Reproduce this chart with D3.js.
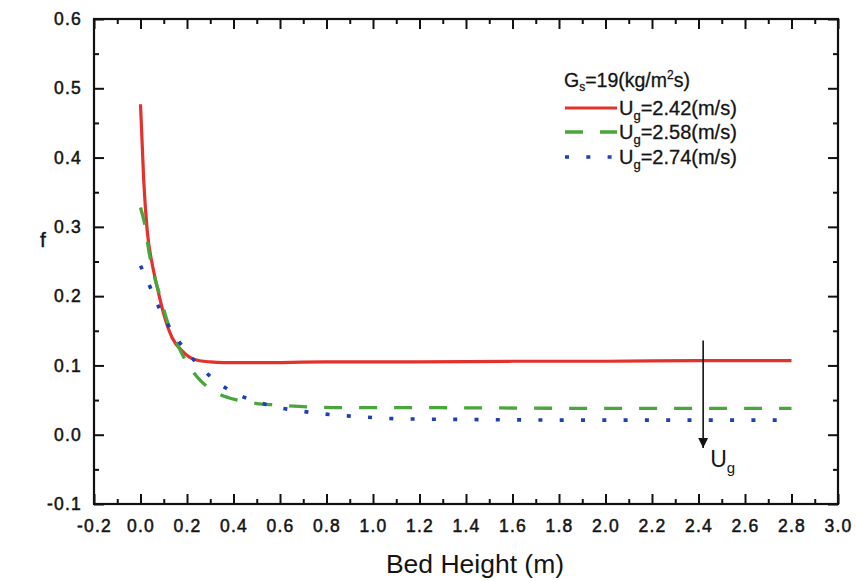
<!DOCTYPE html>
<html>
<head>
<meta charset="utf-8">
<script src="https://cdn.jsdelivr.net/npm/d3@7"></script>
<style>
  body { margin: 0; background: #fff; }
  text { font-family: "Liberation Sans", Arial, Helvetica, sans-serif; fill: #141414; }
</style>
</head>
<body>
<svg id="chart" width="856" height="581"></svg>
<script>
// ---- data ----
const redX   = [0, 0.014, 0.029, 0.05, 0.072, 0.10, 0.136, 0.179, 0.229, 0.30, 0.358, 0.5, 0.8, 1.2, 1.6, 2.0, 2.4, 2.8];
const redY   = [0.477, 0.366, 0.294, 0.247, 0.213, 0.174, 0.140, 0.121, 0.109, 0.105, 0.104, 0.104, 0.105, 0.105, 0.106, 0.106, 0.107, 0.107];
const greenX = [0, 0.021, 0.036, 0.057, 0.086, 0.115, 0.158, 0.186, 0.258, 0.315, 0.415, 0.5, 0.58, 0.73, 0.88, 1.2, 2.0, 2.8];
const greenY = [0.328, 0.299, 0.265, 0.232, 0.198, 0.164, 0.131, 0.112, 0.078, 0.063, 0.050, 0.045, 0.043, 0.040, 0.039, 0.039, 0.038, 0.038];
const blueX  = [0, 0.039, 0.06, 0.107, 0.16, 0.232, 0.315, 0.394, 0.489, 0.582, 0.671, 0.761, 0.852, 0.941, 1.034, 1.12, 1.4, 2.0, 2.8];
const blueY  = [0.244, 0.215, 0.198, 0.165, 0.137, 0.107, 0.080, 0.062, 0.049, 0.040, 0.035, 0.031, 0.028, 0.026, 0.024, 0.023, 0.022, 0.021, 0.021];
const seriesNames = ["2.42", "2.58", "2.74"];
const xTicks = [-0.2, 0.0, 0.2, 0.4, 0.6, 0.8, 1.0, 1.2, 1.4, 1.6, 1.8, 2.0, 2.2, 2.4, 2.6, 2.8, 3.0];
const yTicks = [-0.1, 0.0, 0.1, 0.2, 0.3, 0.4, 0.5, 0.6];
const arrowX = 2.42;
const arrowY = [0.136, -0.019];

// ---- layout ----
const L = 94, R = 838, T = 19, B = 504;
const svg = d3.select("#chart");
const x = d3.scaleLinear().domain([-0.2, 3.0]).range([L, R]);
const y = d3.scaleLinear().domain([-0.1, 0.6]).range([B, T]);

const xMinor = d3.range(-0.1, 3.0, 0.2).map(v => +v.toFixed(2));
const yMinor = d3.range(-0.05, 0.6, 0.1).map(v => +v.toFixed(3));
const fmt = d => d.toFixed(1);

function styleAxis(g) {
  g.select(".domain").remove();
  g.selectAll("line").attr("stroke", "#111").attr("stroke-width", 2);
}
function styleText(sel) {
  sel.attr("font-size", 17.5).attr("font-family", "Liberation Sans, Arial, sans-serif")
    .attr("fill", "#141414").attr("stroke", "#141414").attr("stroke-width", 0.5)
    .attr("letter-spacing", 1.2);
}

// bottom
svg.append("g").attr("transform", `translate(0,${B})`)
  .call(d3.axisBottom(x).tickValues(xTicks).tickSize(-10).tickPadding(16).tickFormat(fmt))
  .call(styleAxis)
  .selectAll("text").call(styleText);
svg.append("g").attr("transform", `translate(0,${B})`)
  .call(d3.axisBottom(x).tickValues(xMinor).tickSize(-5).tickFormat(""))
  .call(styleAxis);
// top
svg.append("g").attr("transform", `translate(0,${T})`)
  .call(d3.axisTop(x).tickValues(xTicks).tickSize(-10).tickFormat(""))
  .call(styleAxis);
svg.append("g").attr("transform", `translate(0,${T})`)
  .call(d3.axisTop(x).tickValues(xMinor).tickSize(-5).tickFormat(""))
  .call(styleAxis);
// left
svg.append("g").attr("transform", `translate(${L},0)`)
  .call(d3.axisLeft(y).tickValues(yTicks).tickSize(-10).tickPadding(12).tickFormat(fmt))
  .call(styleAxis)
  .selectAll("text").call(styleText);
svg.append("g").attr("transform", `translate(${L},0)`)
  .call(d3.axisLeft(y).tickValues(yMinor).tickSize(-5).tickFormat(""))
  .call(styleAxis);
// right
svg.append("g").attr("transform", `translate(${R},0)`)
  .call(d3.axisRight(y).tickValues(yTicks).tickSize(-10).tickFormat(""))
  .call(styleAxis);
svg.append("g").attr("transform", `translate(${R},0)`)
  .call(d3.axisRight(y).tickValues(yMinor).tickSize(-5).tickFormat(""))
  .call(styleAxis);

// frame
svg.append("rect").attr("x", L).attr("y", T).attr("width", R - L).attr("height", B - T)
  .attr("fill", "none").attr("stroke", "#111").attr("stroke-width", 2.2);

// lines
const line = d3.line().x(d => x(d[0])).y(d => y(d[1])).curve(d3.curveMonotoneX);
const series = [
  { xs: redX, ys: redY, color: "#e3312b", dash: null, width: 3.2 },
  { xs: greenX, ys: greenY, color: "#4aa63c", dash: "18,17", width: 3.3 },
  { xs: blueX, ys: blueY, color: "#1f3fb8", dash: "4,17.3", width: 3.6 }
];
series.forEach(s => {
  svg.append("path").datum(d3.zip(s.xs, s.ys))
    .attr("d", line).attr("fill", "none")
    .attr("stroke", s.color).attr("stroke-width", s.width)
    .attr("stroke-dasharray", s.dash);
});

// legend
const lg = svg.append("g");
const gt = lg.append("text").attr("x", 564).attr("y", 87).attr("font-size", 19.5)
  .attr("stroke", "#141414").attr("stroke-width", 0.3);
gt.append("tspan").text("G");
gt.append("tspan").attr("font-size", 12).attr("dy", 4).text("s");
gt.append("tspan").attr("dy", -4).text("=19(kg/m");
gt.append("tspan").attr("font-size", 12).attr("dy", -8).text("2");
gt.append("tspan").attr("dy", 8).text("s)");
const rowY = [108, 132, 157];
series.forEach((s, i) => {
  lg.append("line").attr("x1", 565).attr("x2", 617).attr("y1", rowY[i]).attr("y2", rowY[i])
    .attr("stroke", s.color).attr("stroke-width", s.width)
    .attr("stroke-dasharray", s.dash);
  const t = lg.append("text").attr("x", 619).attr("y", rowY[i] + 7).attr("font-size", 20)
    .attr("stroke", "#141414").attr("stroke-width", 0.3);
  t.append("tspan").text("U");
  t.append("tspan").attr("font-size", 13).attr("dy", 5).text("g");
  t.append("tspan").attr("dy", -5).text("=" + seriesNames[i] + "(m/s)");
});

// arrow annotation
svg.append("defs").append("marker").attr("id", "ah").attr("viewBox", "0 0 10 10")
  .attr("refX", 10).attr("refY", 5).attr("markerWidth", 10).attr("markerHeight", 12)
  .attr("markerUnits", "userSpaceOnUse").attr("orient", "auto")
  .append("path").attr("d", "M0,0 L10,5 L0,10 Z").attr("fill", "#111");
svg.append("line").attr("x1", x(arrowX)).attr("x2", x(arrowX))
  .attr("y1", y(arrowY[0])).attr("y2", y(arrowY[1]))
  .attr("stroke", "#111").attr("stroke-width", 1.6).attr("marker-end", "url(#ah)");
const ut = svg.append("text").attr("x", x(arrowX) + 7).attr("y", 467).attr("font-size", 23);
ut.append("tspan").text("U");
ut.append("tspan").attr("font-size", 15).attr("dy", 6).text("g");

// axis titles
svg.append("text").attr("x", 475).attr("y", 573).attr("text-anchor", "middle")
  .attr("font-size", 26.5).text("Bed Height (m)");
svg.append("text").attr("x", 43).attr("y", 247).attr("text-anchor", "middle")
  .attr("font-size", 21).attr("stroke", "#141414").attr("stroke-width", 0.4).text("f");
</script>
</body>
</html>
